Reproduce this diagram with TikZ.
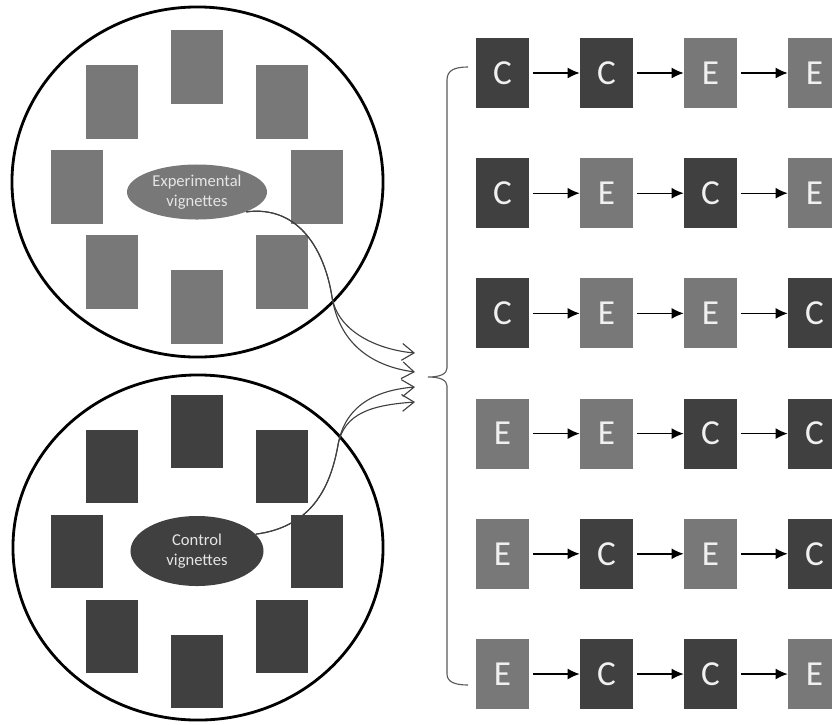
\documentclass[tikz,border=0pt]{standalone}
\usepackage{fontspec}
\setmainfont{Carlito}
\usetikzlibrary{arrows.meta,shapes.geometric}
\definecolor{colE}{RGB}{120,120,120}
\definecolor{colC}{RGB}{64,64,64}
\tikzset{
  vbox/.style={minimum width=1.325cm,minimum height=1.75cm,inner sep=0pt,text=white!94!black,font=\fontsize{25}{30}\selectfont},
  poolbox/.style={minimum width=1.275cm,minimum height=1.825cm,inner sep=0pt},
  pool/.style={draw=black,line width=2pt},
  tag/.style={ellipse,inner sep=0pt,text=white!90!black,align=center,font=\fontsize{11.8}{14}\selectfont},
  flow/.style={draw=black!75,line width=0.8pt,-{Straight Barb[length=3mm,width=4.2mm]}},
}
\begin{document}
\begin{tikzpicture}[>={Latex[length=3mm,width=2.7mm]},x=0.025cm,y=-0.025cm]
	\useasboundingbox (0,0) rectangle (832,724);
	% the two pools
	\draw[pool] (197.5,182) ellipse (4.6375cm and 4.375cm);
	\draw[pool] (198,547.5) ellipse (4.625cm and 4.3125cm);
	\foreach \dx/\dy [count=\k] in {0/-120,-85/-85,85/-85,-120/0,120/0,-85/85,85/85,0/120}{
		\node[poolbox,fill=colE] (exp\k) at (197+\dx,187+\dy) {};
		\node[poolbox,fill=colC] (ctl\k) at (197+\dx,551+\dy) {};
	}
	\node[tag,fill=colE,minimum width=3.5cm,minimum height=1.375cm] (expTag) at (197,192) {Experimental\\vignettes};
	\node[tag,fill=colC,minimum width=3.325cm,minimum height=1.75cm] (ctlTag) at (197,551) {Control\\vignettes};
	% the six orders
	\foreach \seq [count=\r] in {{C,C,E,E},{C,E,C,E},{C,E,E,C},{E,E,C,C},{E,C,E,C},{E,C,C,E}}{
		\foreach \l [count=\c] in \seq
			\node[vbox,fill=col\l] (b\r\c) at (502.5+104*\c-104,73+120.2*\r-120.2) {\l};
		\foreach \c/\p in {2/1,3/2,4/3}
			\draw[->,line width=1pt,shorten <=0.1cm] (b\r\p) -- (b\r\c);
	}
	% brace
	\coordinate (braceTop) at (468,67);
	\coordinate (braceTip) at (428,377);
	\coordinate (braceBot) at (468,685);
	\draw[black!65,line width=0.8pt] (braceTop) .. controls (455,67) and (447,70) .. (447,80)
		-- (447,368) .. controls (447,374) and (440,377) .. (braceTip)
		.. controls (440,377) and (447,380) .. (447,386)
		-- (447,674) .. controls (447,682) and (455,685) .. (braceBot);
	% links into the brace
	\coordinate (t1) at (415,353);
	\coordinate (t2) at (415,372);
	\coordinate (t3) at (415,387);
	\coordinate (t4) at (415,402);
	\coordinate (s1) at (332,297);
	\coordinate (s2) at (338,445);
	\draw[flow] (expTag.-22) .. controls (300,205) and (325,252) .. (s1) .. controls (338,333) and (380,350) .. (t1);
	\draw[flow] (expTag.-22) .. controls (300,205) and (325,252) .. (s1) .. controls (339,342) and (370,366) .. (t2);
	\draw[flow] (ctlTag.16) .. controls (310,527) and (330,490) .. (s2) .. controls (345,404) and (378,390) .. (t3);
	\draw[flow] (ctlTag.16) .. controls (310,527) and (330,490) .. (s2) .. controls (344,413) and (372,405) .. (t4);
\end{tikzpicture}
\end{document}
